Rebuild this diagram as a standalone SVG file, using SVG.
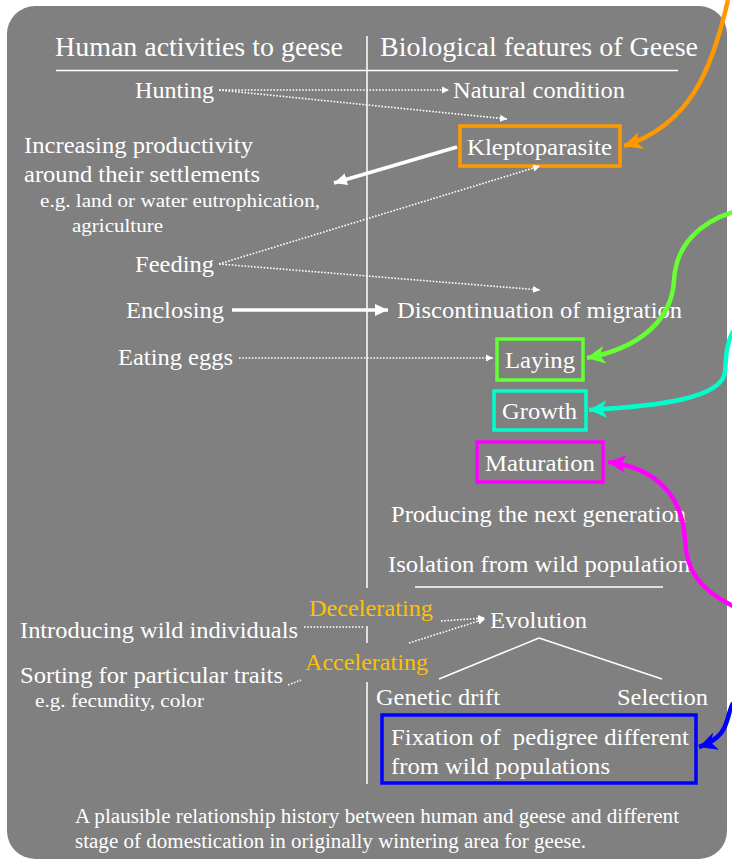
<svg xmlns="http://www.w3.org/2000/svg" width="732" height="864" viewBox="0 0 732 864">
<defs>
<style>
.t{font-family:"Liberation Serif","Times New Roman",serif;fill:#fff;font-size:24px}
.h{font-size:27px}
.s{font-size:19px}
.c{font-size:20px}
.g{fill:#FFC000}
.dot{fill:none;stroke:#fff;stroke-width:1.6;stroke-dasharray:1.6 1.6}
.solid{fill:none;stroke:#fff;stroke-width:3.5}
.rule{stroke:#fff;stroke-width:1.5}
.box{fill:none;stroke-width:3.5}
.curve{fill:none;stroke-width:4.5}
</style>
<marker id="ad" markerUnits="userSpaceOnUse" markerWidth="8" markerHeight="8" refX="7" refY="4" orient="auto"><path d="M0,0.5 L7,4 L0,7.5 z" fill="#fff"/></marker>
<marker id="aw" markerUnits="userSpaceOnUse" markerWidth="14" markerHeight="14" refX="13" refY="7" orient="auto"><path d="M0,1 L13,7 L0,13 z" fill="#fff"/></marker>
<marker id="ao" markerUnits="userSpaceOnUse" markerWidth="20" markerHeight="18" refX="18" refY="9" orient="auto"><path d="M0,0 L18,9 L0,18 L5,9 z" fill="#FF9900"/></marker>
<marker id="ag" markerUnits="userSpaceOnUse" markerWidth="20" markerHeight="18" refX="18" refY="9" orient="auto"><path d="M0,0 L18,9 L0,18 L5,9 z" fill="#66FF33"/></marker>
<marker id="ac" markerUnits="userSpaceOnUse" markerWidth="20" markerHeight="18" refX="18" refY="9" orient="auto"><path d="M0,0 L18,9 L0,18 L5,9 z" fill="#00FFCC"/></marker>
<marker id="am" markerUnits="userSpaceOnUse" markerWidth="20" markerHeight="18" refX="18" refY="9" orient="auto"><path d="M0,0 L18,9 L0,18 L5,9 z" fill="#FF00FF"/></marker>
<marker id="ab" markerUnits="userSpaceOnUse" markerWidth="20" markerHeight="18" refX="18" refY="9" orient="auto"><path d="M0,0 L18,9 L0,18 L5,9 z" fill="#0000FF"/></marker>
</defs>
<rect width="732" height="864" fill="#fff"/>
<rect x="7" y="6" width="720" height="853" rx="28" ry="28" fill="#808080"/>

<g id="frame">
<line class="rule" x1="367" y1="36" x2="367" y2="588"/>
<line class="rule" x1="367" y1="626" x2="367" y2="643"/>
<line class="rule" x1="367" y1="682" x2="367" y2="784"/>
<line class="rule" x1="56" y1="70.5" x2="678" y2="70.5" stroke-width="2.5"/>
<line class="rule" x1="415" y1="587" x2="663" y2="587" stroke-width="2"/>
<text class="t h" x="55" y="56" textLength="288" lengthAdjust="spacingAndGlyphs">Human activities to geese</text>
<text class="t h" x="380" y="56" textLength="318" lengthAdjust="spacingAndGlyphs">Biological features of Geese</text>
</g>

<g id="hunting"><text class="t" x="135" y="98" textLength="79" lengthAdjust="spacingAndGlyphs">Hunting</text></g>
<g id="natural-condition"><text class="t" x="453" y="98" textLength="172" lengthAdjust="spacingAndGlyphs">Natural condition</text></g>
<g id="kleptoparasite">
<rect class="box" x="460" y="126" width="160" height="40" stroke="#FF9900"/>
<text class="t" x="467" y="155" textLength="145" lengthAdjust="spacingAndGlyphs">Kleptoparasite</text>
</g>
<g id="increasing-productivity">
<text class="t" x="24" y="153" textLength="229" lengthAdjust="spacingAndGlyphs">Increasing productivity</text>
<text class="t" x="24" y="182" textLength="236" lengthAdjust="spacingAndGlyphs">around their settlements</text>
<text class="t s" x="40" y="207" textLength="280" lengthAdjust="spacingAndGlyphs">e.g. land or water eutrophication,</text>
<text class="t s" x="72" y="232" textLength="91" lengthAdjust="spacingAndGlyphs">agriculture</text>
</g>
<g id="feeding"><text class="t" x="135" y="272" textLength="79" lengthAdjust="spacingAndGlyphs">Feeding</text></g>
<g id="enclosing"><text class="t" x="126" y="318" textLength="98" lengthAdjust="spacingAndGlyphs">Enclosing</text></g>
<g id="discontinuation"><text class="t" x="397" y="318" textLength="285" lengthAdjust="spacingAndGlyphs">Discontinuation of migration</text></g>
<g id="eating-eggs"><text class="t" x="118" y="365" textLength="115" lengthAdjust="spacingAndGlyphs">Eating eggs</text></g>
<g id="laying">
<rect class="box" x="497" y="339" width="86" height="41" stroke="#66FF33"/>
<text class="t" x="505" y="368" textLength="70" lengthAdjust="spacingAndGlyphs">Laying</text>
</g>
<g id="growth">
<rect class="box" x="494" y="391" width="92" height="39" stroke="#00FFCC"/>
<text class="t" x="502" y="419" textLength="75" lengthAdjust="spacingAndGlyphs">Growth</text>
</g>
<g id="maturation">
<rect class="box" x="477" y="442" width="126" height="40" stroke="#FF00FF"/>
<text class="t" x="485" y="471" textLength="110" lengthAdjust="spacingAndGlyphs">Maturation</text>
</g>
<g id="producing"><text class="t" x="391" y="522" textLength="295" lengthAdjust="spacingAndGlyphs">Producing the next generation</text></g>
<g id="isolation"><text class="t" x="388" y="572" textLength="302" lengthAdjust="spacingAndGlyphs">Isolation from wild population</text></g>
<g id="decelerating"><text class="t g" x="309" y="616" textLength="124" lengthAdjust="spacingAndGlyphs">Decelerating</text></g>
<g id="evolution"><text class="t" x="490" y="628" textLength="97" lengthAdjust="spacingAndGlyphs">Evolution</text></g>
<g id="introducing"><text class="t" x="20" y="638" textLength="278" lengthAdjust="spacingAndGlyphs">Introducing wild individuals</text></g>
<g id="accelerating"><text class="t g" x="305" y="670" textLength="123" lengthAdjust="spacingAndGlyphs">Accelerating</text></g>
<g id="sorting">
<text class="t" x="20" y="683" textLength="263" lengthAdjust="spacingAndGlyphs">Sorting for particular traits</text>
<text class="t s" x="35" y="707" textLength="169" lengthAdjust="spacingAndGlyphs">e.g. fecundity, color</text>
</g>
<g id="genetic-drift"><text class="t" x="376" y="705" textLength="124" lengthAdjust="spacingAndGlyphs">Genetic drift</text></g>
<g id="selection"><text class="t" x="617" y="705" textLength="91" lengthAdjust="spacingAndGlyphs">Selection</text></g>
<g id="fixation">
<rect class="box" x="382" y="715" width="314" height="68" stroke="#0000FF"/>
<text class="t" x="391" y="745" textLength="298" lengthAdjust="spacingAndGlyphs" xml:space="preserve">Fixation of  pedigree different</text>
<text class="t" x="391" y="774" textLength="219" lengthAdjust="spacingAndGlyphs">from wild populations</text>
</g>
<g id="caption">
<text class="t c" x="75" y="823" textLength="604" lengthAdjust="spacingAndGlyphs">A plausible relationship history between human and geese and different</text>
<text class="t c" x="75" y="848" textLength="511" lengthAdjust="spacingAndGlyphs">stage of domestication in originally wintering area for geese.</text>
</g>

<g id="connectors">
<line class="dot" x1="219" y1="90" x2="449" y2="90" marker-end="url(#ad)"/>
<line class="dot" x1="219" y1="90" x2="507" y2="119" marker-end="url(#ad)"/>
<line class="solid" x1="457" y1="147" x2="334" y2="183" marker-end="url(#aw)"/>
<line class="dot" x1="219" y1="264" x2="540" y2="166" marker-end="url(#ad)"/>
<line class="dot" x1="219" y1="264" x2="540" y2="290" marker-end="url(#ad)"/>
<line class="solid" x1="232" y1="310" x2="388" y2="310" marker-end="url(#aw)"/>
<line class="dot" x1="239" y1="358" x2="493" y2="358" marker-end="url(#ad)"/>
<line class="dot" x1="304" y1="627" x2="364" y2="627"/>
<line class="dot" x1="441" y1="621" x2="485" y2="618" marker-end="url(#ad)"/>
<line class="dot" x1="409" y1="643" x2="485" y2="619" marker-end="url(#ad)"/>
<line class="dot" x1="288" y1="685" x2="301" y2="680"/>
<line class="rule" x1="539" y1="638" x2="439" y2="679"/>
<line class="rule" x1="539" y1="638" x2="662" y2="679"/>
<path class="curve" stroke="#FF9900" d="M728,0 C712,70 690,125 624,146" marker-end="url(#ao)"/>
<path class="curve" stroke="#66FF33" d="M733,212 C700,222 676,245 674,280 C672,320 640,348 587,358" marker-end="url(#ag)"/>
<path class="curve" stroke="#00FFCC" d="M733,331 C726,345 726,358 725,372 C722,398 660,406 589,410" marker-end="url(#ac)"/>
<path class="curve" stroke="#FF00FF" d="M733,606 C700,590 686,570 685,540 C683,500 660,468 608,462" marker-end="url(#am)"/>
<path class="curve" stroke="#0000FF" d="M733,703 C725,718 731,736 699,747" marker-end="url(#ab)"/>
</g>
</svg>
